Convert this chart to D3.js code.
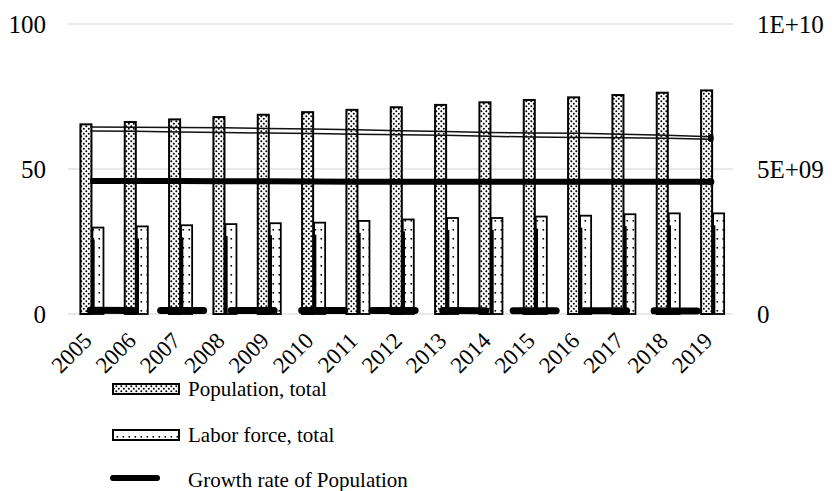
<!DOCTYPE html>
<html>
<head>
<meta charset="utf-8">
<script src="https://cdn.jsdelivr.net/npm/d3@7/dist/d3.min.js"></script>
<style>
  html, body { margin: 0; padding: 0; background: #fff; }
  svg { display: block; }
  text { font-family: "Liberation Serif", "Times New Roman", serif; fill: #000; }
</style>
</head>
<body>
<svg id="chart" width="834" height="491"></svg>
<script>
// ---- data ----
const years = ["2005","2006","2007","2008","2009","2010","2011","2012","2013","2014","2015","2016","2017","2018","2019"];
const population = [6.54e9, 6.62e9, 6.71e9, 6.79e9, 6.87e9, 6.96e9, 7.04e9, 7.13e9, 7.21e9, 7.30e9, 7.38e9, 7.47e9, 7.55e9, 7.63e9, 7.71e9];
const laborForce = [2.98e9, 3.02e9, 3.06e9, 3.10e9, 3.13e9, 3.15e9, 3.21e9, 3.26e9, 3.31e9, 3.31e9, 3.36e9, 3.39e9, 3.44e9, 3.47e9, 3.47e9];
// left-axis line series (percent)
const rateLine = [45.9, 45.9, 45.9, 45.8, 45.8, 45.7, 45.6, 45.6, 45.6, 45.6, 45.6, 45.6, 45.6, 45.6, 45.6];
const participationA = [64.5, 64.4, 64.3, 64.2, 64.0, 63.8, 63.5, 63.2, 62.9, 62.6, 62.4, 62.3, 62.0, 61.6, 61.1];
const participationB = [63.1, 63.0, 62.8, 62.6, 62.4, 62.2, 62.0, 61.8, 61.6, 61.3, 61.0, 60.9, 60.8, 60.6, 60.3];
const growthRate = [1.26, 1.24, 1.23, 1.23, 1.21, 1.19, 1.17, 1.18, 1.17, 1.15, 1.13, 1.12, 1.10, 1.07, 1.04];
const leftTicks = [0, 50, 100];
const rightTicks = [0, 5e9, 1e10];
const rightTickLabels = ["0", "5E+09", "1E+10"];
const legendLabels = ["Population, total", "Labor force, total", "Growth rate of Population"];

// ---- layout ----
const svg = d3.select("#chart");
const plot = { left: 68, right: 733, top: 24, bottom: 314 };

const x = d3.scaleBand().domain(years).range([plot.left, plot.right]).paddingInner(0).paddingOuter(0);
const bw = x.bandwidth();
const xSub = d3.scaleBand().domain(["pop", "labor"]).range([0.28 * bw, 0.80 * bw]).paddingInner(0.08);
const yL = d3.scaleLinear().domain([0, 100]).range([plot.bottom, plot.top]);
const yR = d3.scaleLinear().domain([0, 1e10]).range([plot.bottom, plot.top]);

// ---- patterns ----
const defs = svg.append("defs");
const pDots = defs.append("pattern").attr("id", "popFill").attr("patternUnits", "userSpaceOnUse")
  .attr("width", 5).attr("height", 5);
pDots.append("rect").attr("width", 5).attr("height", 5).attr("fill", "#fff");
pDots.append("circle").attr("cx", 1.3).attr("cy", 1.3).attr("r", 1.0).attr("fill", "#000");
pDots.append("circle").attr("cx", 3.8).attr("cy", 3.8).attr("r", 1.0).attr("fill", "#000");

const pLab = defs.append("pattern").attr("id", "laborFill").attr("patternUnits", "userSpaceOnUse")
  .attr("width", 6).attr("height", 9);
pLab.append("rect").attr("width", 6).attr("height", 9).attr("fill", "#fff");
pLab.append("rect").attr("x", 2.5).attr("y", 4).attr("width", 1.6).attr("height", 1.6).attr("fill", "#000");

// ---- gridlines ----
svg.append("g").selectAll("line").data(leftTicks).join("line")
  .attr("x1", plot.left).attr("x2", plot.right)
  .attr("y1", d => yL(d)).attr("y2", d => yL(d))
  .attr("stroke", "#d4d4d4").attr("stroke-width", 1.2);

// ---- axes ----
const leftAxis = d3.axisLeft(yL).tickValues(leftTicks).tickSize(0).tickPadding(0);
const gL = svg.append("g").attr("transform", `translate(46,0)`).call(leftAxis);
gL.select(".domain").remove();
gL.selectAll("text").attr("font-size", 25).attr("font-family", "Liberation Serif").attr("fill", "#000");

const rightAxis = d3.axisRight(yR).tickValues(rightTicks).tickSize(0).tickPadding(0)
  .tickFormat((d, i) => rightTickLabels[i]);
const gR = svg.append("g").attr("transform", `translate(757,0)`).call(rightAxis);
gR.select(".domain").remove();
gR.selectAll("text").attr("font-size", 25).attr("font-family", "Liberation Serif").attr("fill", "#000");

// ---- bars ----
const bars = svg.append("g");
bars.selectAll("rect.pop").data(years).join("rect").attr("class", "pop")
  .attr("x", d => x(d) + xSub("pop")).attr("width", xSub.bandwidth())
  .attr("y", (d, i) => yR(population[i])).attr("height", (d, i) => yR(0) - yR(population[i]))
  .attr("fill", "url(#popFill)").attr("stroke", "#000").attr("stroke-width", 2);

bars.selectAll("rect.labor").data(years).join("rect").attr("class", "labor")
  .attr("x", d => x(d) + xSub("labor")).attr("width", xSub.bandwidth())
  .attr("y", (d, i) => yR(laborForce[i])).attr("height", (d, i) => yR(0) - yR(laborForce[i]))
  .attr("fill", "url(#laborFill)").attr("stroke", "#000").attr("stroke-width", 1.8);

// heavier left edge on the labor bars
bars.selectAll("line.laborEdge").data(years).join("line").attr("class", "laborEdge")
  .attr("x1", d => x(d) + xSub("labor") + 0.5).attr("x2", d => x(d) + xSub("labor") + 0.5)
  .attr("y1", (d, i) => yR(laborForce[i]) + 12).attr("y2", yR(0))
  .attr("stroke", "#000").attr("stroke-width", 3.5);

// ---- lines ----
const cx = d => x(d) + bw / 2;
const lineL = vals => d3.line().x((d, i) => cx(years[i])).y(d => yL(d))(vals);

svg.append("path").attr("d", lineL(growthRate))
  .attr("fill", "none").attr("stroke", "#000").attr("stroke-width", 7)
  .attr("stroke-linecap", "round").attr("stroke-dasharray", "43,27.5");

[participationA, participationB].forEach(vals => {
  svg.append("path").attr("d", lineL(vals))
    .attr("fill", "none").attr("stroke", "#111").attr("stroke-width", 1.5);
  svg.append("circle").attr("cx", cx(years[years.length - 1])).attr("cy", yL(vals[vals.length - 1]))
    .attr("r", 2.8).attr("fill", "#000");
});

svg.append("path").attr("d", lineL(rateLine))
  .attr("fill", "none").attr("stroke", "#000").attr("stroke-width", 6);
svg.append("circle").attr("cx", cx(years[years.length - 1])).attr("cy", yL(rateLine[rateLine.length - 1]))
  .attr("r", 3.5).attr("fill", "#000");

// ---- x labels ----
svg.append("g").selectAll("text").data(years).join("text")
  .attr("transform", d => `translate(${cx(d) + 3},342) rotate(-45)`)
  .attr("text-anchor", "end").attr("font-size", 23).text(d => d);

// ---- legend ----
const lg = svg.append("g");
lg.append("rect").attr("x", 113).attr("y", 384).attr("width", 66).attr("height", 10)
  .attr("fill", "url(#popFill)").attr("stroke", "#000").attr("stroke-width", 2);
lg.append("rect").attr("x", 113).attr("y", 430).attr("width", 66).attr("height", 10)
  .attr("fill", "url(#laborFill)").attr("stroke", "#000").attr("stroke-width", 2);
lg.append("line").attr("x1", 113).attr("x2", 157).attr("y1", 478).attr("y2", 478)
  .attr("stroke", "#000").attr("stroke-width", 6).attr("stroke-linecap", "round");
lg.selectAll("text").data(legendLabels).join("text")
  .attr("x", 188).attr("y", (d, i) => [389, 435, 480][i]).attr("dy", "0.35em")
  .attr("font-size", 21).text(d => d);
</script>
</body>
</html>
